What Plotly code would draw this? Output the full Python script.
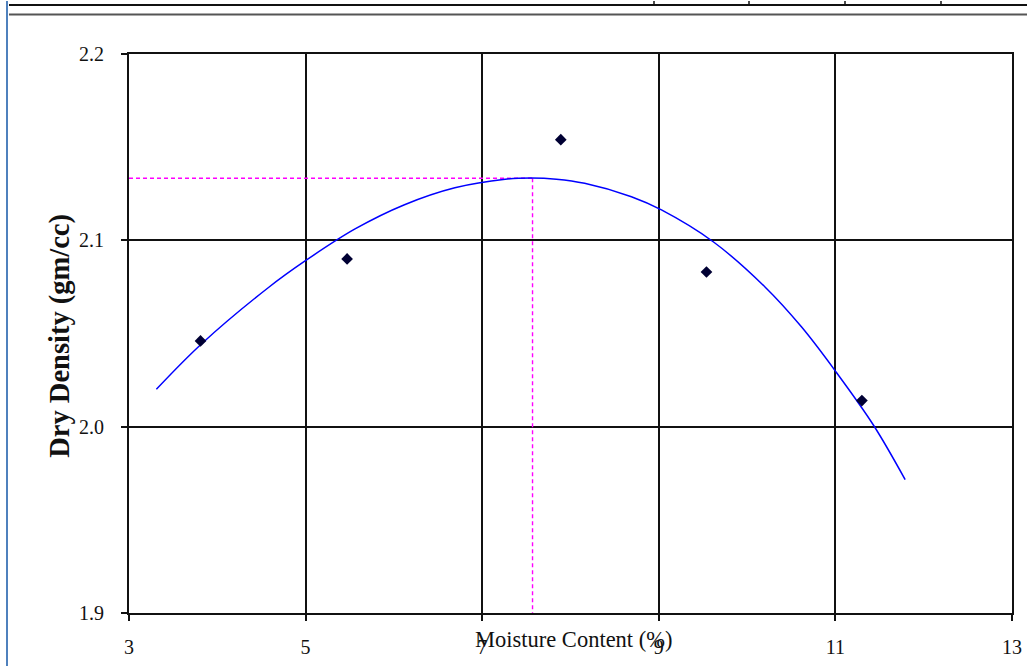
import plotly.graph_objects as go

# Measured compaction test points
moisture = [3.81, 5.47, 7.89, 9.54, 11.30]
density = [2.046, 2.090, 2.154, 2.083, 2.014]

# Trendline
curve_x = [3.31, 3.82, 4.58, 4.99, 5.56, 6.12, 6.69, 7.26, 7.55,
           7.84, 8.16, 8.69, 9.03, 9.62, 10.20, 10.62, 11.01, 11.43, 11.79]
curve_y = [2.0201, 2.0444, 2.0747, 2.0888, 2.1061, 2.1191, 2.1282, 2.1328, 2.1334,
           2.1328, 2.1306, 2.1234, 2.1163, 2.0991, 2.0751, 2.0533, 2.0292, 2.0009, 1.9716]

# Optimum moisture content / maximum dry density
omc = 7.57
mdd = 2.1333

x_range = [3, 13]
y_range = [1.9, 2.2]
x_ticks = [3, 5, 7, 9, 11, 13]
y_ticks = [1.9, 2.0, 2.1, 2.2]

# compensation for the page rendering scale
SX = 1 / 0.9935
SY = 1 / 0.989
W, H = round(1027 * SX), round(666 * 1.0065)
L, R, T, B = 128 * SX, 1011 * SX, 53 * SY, 612.5 * SY

def px(x):
    return (x * SX - L) / (R - L)

def py(y):
    return (B - y * SY) / (B - T)

fig = go.Figure()

fig.add_trace(go.Scatter(x=[x_range[0], omc], y=[mdd, mdd], mode="lines",
                         line=dict(color="#FF00FF", width=1.4, dash="4px,3px"),
                         showlegend=False, hoverinfo="skip"))
fig.add_trace(go.Scatter(x=[omc, omc], y=[mdd, y_range[0]], mode="lines",
                         line=dict(color="#FF00FF", width=1.4, dash="4px,3px"),
                         showlegend=False, hoverinfo="skip"))
fig.add_trace(go.Scatter(x=curve_x, y=curve_y, mode="lines",
                         line=dict(color="#0000FF", width=1.5, shape="spline", smoothing=1.0),
                         showlegend=False))
fig.add_trace(go.Scatter(x=moisture, y=density, mode="markers",
                         marker=dict(symbol="diamond", size=9, color="#000033"),
                         showlegend=False))

axis_common = dict(showgrid=True, gridcolor="#111111", gridwidth=1.8,
                   showline=True, linecolor="#111111", linewidth=1.8, mirror=True,
                   ticks="outside", ticklen=6, tickcolor="#111111", tickwidth=1.8,
                   zeroline=False,
                   tickfont=dict(family="Liberation Serif", size=20, color="#111111"))

fig.update_xaxes(range=x_range, tickvals=x_ticks, ticklabelstandoff=9, **axis_common)
fig.update_yaxes(range=y_range, tickvals=y_ticks, tickformat=".1f", ticklabelstandoff=13, **axis_common)

fig.add_annotation(text="Moisture Content (%)", xref="paper", yref="paper",
                   x=px(572), y=py(639), xanchor="center", yanchor="middle", showarrow=False,
                   font=dict(family="Liberation Serif", size=22.5, color="#111111"))
fig.add_annotation(text="<b>Dry Density (gm/cc)</b>", xref="paper", yref="paper",
                   x=px(59), y=py(335), xanchor="center", yanchor="middle", showarrow=False,
                   textangle=-90,
                   font=dict(family="Liberation Serif", size=28.5, color="#111111"))

# page decorations (table rules at the top and left border)
shapes = [
    dict(type="line", xref="paper", yref="paper", x0=px(8), x1=px(1027), y0=py(4), y1=py(4),
         line=dict(color="#111111", width=2)),
    dict(type="line", xref="paper", yref="paper", x0=px(8), x1=px(1027), y0=py(13.5), y1=py(13.5),
         line=dict(color="#555555", width=2)),
    dict(type="line", xref="paper", yref="paper", x0=px(6), x1=px(6), y0=py(0), y1=py(666),
         line=dict(color="#4F81BD", width=2)),
]
for vx in [653, 748, 844, 940]:
    shapes.append(dict(type="line", xref="paper", yref="paper", x0=px(vx), x1=px(vx),
                       y0=py(0), y1=py(4), line=dict(color="#111111", width=1.5)))
fig.update_layout(shapes=shapes)

fig.update_layout(width=W, height=H, margin=dict(l=L, r=W - R, t=T, b=H - B),
                  plot_bgcolor="white", paper_bgcolor="white")

fig.write_html("out.html", config={"displayModeBar": False},
               post_script="document.body.style.margin='0';document.body.style.overflow='hidden';")
